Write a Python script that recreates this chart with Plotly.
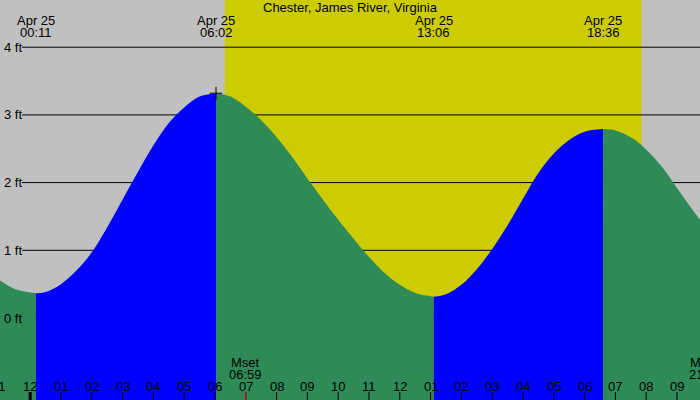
import plotly.graph_objects as go

# ---------------- data ----------------
title_text = "Chester, James River, Virginia"
date_label = "Apr 25"

tide_times = ["00:11", "06:02", "13:06", "18:36"]
tide_kinds = ["low", "high", "low", "high"]
tide_feet = [0.365, 3.32, 0.315, 2.79]

# intermediate curve readings (hours after midnight Apr 25, feet)
curve_hours = [-1.0, -0.5,
               0.5, 1.0, 1.5, 2.0, 2.5, 3.0, 3.5, 4.0, 4.5, 5.0, 5.5,
               6.5, 7.0, 7.5, 8.0, 8.5, 9.0, 9.5, 10.0, 10.5, 11.0, 11.5, 12.0, 12.5,
               13.5, 14.0, 14.5, 15.0, 15.5, 16.0, 16.5, 17.0, 17.5, 18.0,
               19.0, 19.5, 20.0, 20.5, 21.0, 21.5, 21.75]
curve_feet = [0.56, 0.43,
              0.385, 0.50, 0.70, 0.97, 1.34, 1.75, 2.16, 2.55, 2.88, 3.11, 3.27,
              3.27, 3.12, 2.92, 2.67, 2.38, 2.06, 1.75, 1.45, 1.17, 0.90, 0.67, 0.49, 0.37,
              0.35, 0.49, 0.72, 1.02, 1.37, 1.76, 2.14, 2.43, 2.63, 2.75,
              2.77, 2.67, 2.49, 2.24, 1.92, 1.60, 1.45]

sunrise = "06:19"
sunset = "19:51"
moon_events = ["Mset", "Mrise"]
moon_times = ["06:59", "21:56"]

y_ticks = [0, 1, 2, 3, 4]
hour_ticks = list(range(-1, 23))

# ---------------- helpers ----------------
def hrs(s):
    h, m = s.split(":")
    return int(h) + int(m) / 60.0

X_RANGE = [-0.9805, 21.747]
Y_RANGE = [-1.211, 4.697]
FONT = "Liberation Sans, Arial, sans-serif"
FS = 13

def xfrac(h):
    return (h - X_RANGE[0]) / (X_RANGE[1] - X_RANGE[0])

tide_hours = [hrs(t) for t in tide_times]
pts = sorted(list(zip(curve_hours, curve_feet)) + list(zip(tide_hours, tide_feet)))
all_x = [p[0] for p in pts]
all_y = [p[1] for p in pts]

# segment break indices at extremes
breaks = [0] + [all_x.index(h) for h in tide_hours] + [len(all_x) - 1]
# colours: rising (towards high) blue, falling green
seg_colors = []
for i in range(len(breaks) - 1):
    if i < len(tide_kinds):
        seg_colors.append("#0000ff" if tide_kinds[i] == "high" else "#2e8b57")
    else:
        seg_colors.append("#0000ff" if tide_kinds[-1] == "low" else "#2e8b57")

fig = go.Figure()
base = Y_RANGE[0] - 0.5
for i in range(len(breaks) - 1):
    a, b = breaks[i], breaks[i + 1]
    xs = all_x[a:b + 1]
    ys = all_y[a:b + 1]
    fig.add_trace(go.Scatter(x=[xs[0], xs[-1]], y=[base, base], mode="lines",
                             line=dict(width=0), showlegend=False, hoverinfo="skip"))
    fig.add_trace(go.Scatter(x=xs, y=ys, mode="lines",
                             line=dict(width=0, shape="spline", color=seg_colors[i]),
                             fill="tonexty", fillcolor=seg_colors[i],
                             showlegend=False, hoverinfo="skip"))

# "+" marker at first high tide
fig.add_trace(go.Scatter(x=[tide_hours[1]], y=[tide_feet[1]], mode="markers",
                         marker=dict(symbol="cross-thin", size=9,
                                     line=dict(width=1, color="black")),
                         showlegend=False, hoverinfo="skip"))

shapes = []
# daylight
shapes.append(dict(type="rect", xref="x", yref="paper", x0=hrs(sunrise), x1=hrs(sunset),
                   y0=0, y1=1, fillcolor="#cccc00", line=dict(width=0), layer="below"))
# grid lines
for v in y_ticks:
    shapes.append(dict(type="line", xref="paper", yref="y", x0=22 / 700, x1=1, y0=v, y1=v,
                       line=dict(color="black", width=1), layer="below"))
# hour ticks
for h in hour_ticks:
    shapes.append(dict(type="line", xref="x", yref="paper", x0=h, x1=h, y0=0, y1=0.02,
                       line=dict(color="black", width=3 if h % 24 == 0 else 1)))
# moon ticks
for t in moon_times:
    shapes.append(dict(type="line", xref="x", yref="paper", x0=hrs(t), x1=hrs(t), y0=0, y1=0.02,
                       line=dict(color="red", width=1)))

ann = []
font = dict(family=FONT, size=FS, color="black")
ann.append(dict(text=title_text, xref="paper", yref="paper", x=0.5, y=1 - 7.5 / 400,
                xanchor="center", yanchor="middle", showarrow=False, font=font))
for t in tide_times:
    h = hrs(t)
    ann.append(dict(text=date_label, xref="x", yref="paper", x=h, y=1 - 20 / 400,
                    xanchor="center", yanchor="middle", showarrow=False, font=font))
    ann.append(dict(text=t, xref="x", yref="paper", x=h, y=1 - 32.5 / 400,
                    xanchor="center", yanchor="middle", showarrow=False, font=font))
for v in y_ticks:
    ann.append(dict(text=f"{v} ft", xref="paper", yref="y", x=2 / 700, y=v,
                    xanchor="left", yanchor="middle", showarrow=False, font=font))
for h in hour_ticks:
    hh = h % 12
    lab = f"{12 if hh == 0 else hh:02d}"
    ann.append(dict(text=lab, xref="paper", yref="paper", x=xfrac(h), y=1 - 386 / 400,
                    xanchor="center", yanchor="middle", showarrow=False, font=font))
for name, t in zip(moon_events, moon_times):
    h = hrs(t)
    ann.append(dict(text=name, xref="paper", yref="paper", x=xfrac(h), y=1 - 362 / 400,
                    xanchor="center", yanchor="middle", showarrow=False, font=font))
    ann.append(dict(text=t, xref="paper", yref="paper", x=xfrac(h), y=1 - 374.5 / 400,
                    xanchor="center", yanchor="middle", showarrow=False, font=font))

fig.update_layout(
    width=700, height=400, margin=dict(l=0, r=0, t=0, b=0),
    paper_bgcolor="#c0c0c0", plot_bgcolor="#c0c0c0",
    xaxis=dict(range=X_RANGE, visible=False, fixedrange=True),
    yaxis=dict(range=Y_RANGE, visible=False, fixedrange=True),
    shapes=shapes, annotations=ann, showlegend=False,
)

fig.write_html("out.html", config={"displayModeBar": False})
